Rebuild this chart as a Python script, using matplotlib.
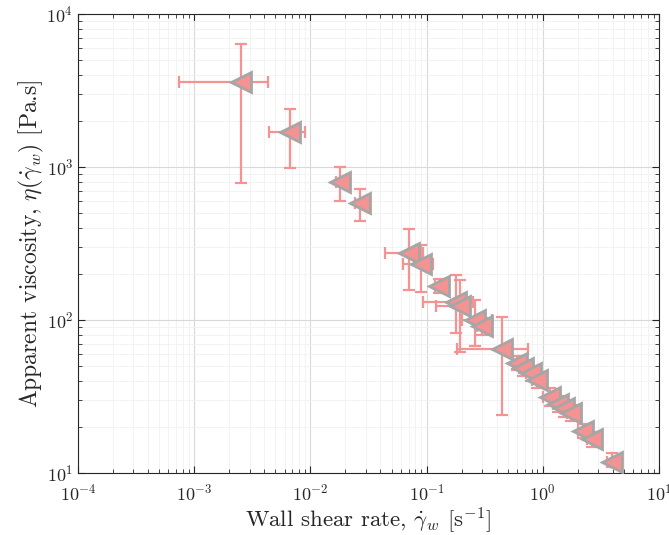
import matplotlib
matplotlib.use("Agg")
import matplotlib.pyplot as plt
import numpy as np

# Data
shear_rate = [2.53e-3, 6.67e-3, 0.0180, 0.0267, 0.0706, 0.0895, 0.128, 0.179, 0.194,
              0.261, 0.300, 0.446, 0.600, 0.676, 0.791, 0.891, 1.153, 1.352, 1.522,
              1.749, 2.218, 2.65, 3.94]
viscosity = [3600, 1700, 800, 580, 274, 232, 167, 131, 124,
             100, 91.4, 64.6, 52.4, 48.5, 45.1, 40.6, 31.4, 28.2, 26.6,
             24.7, 18.8, 16.7, 11.8]
visc_low = [785, 985, 600, 443, 157, 152, 150, 82.3, 61.8,
            67.6, 80, 23.9, 47, 43, 40, 36, 27.5, 25, 23.3,
            21.8, 16.9, 14.8, 10.9]
visc_high = [6368, 2393, 1000, 718, 393, 309, 185, 197, 182,
             135, 103, 105, 58, 54, 50, 45, 36, 32, 30,
             27.8, 21, 18.6, 13.6]
rate_low = [7.4e-4, 4.4e-3, 0.0165, 0.0240, 0.0439, 0.0627, 0.118, 0.0931, 0.12,
            0.202, 0.27, 0.183, 0.55, 0.62, 0.72, 0.80, 1.00, 1.22, 1.40,
            1.60, 2.00, 2.40, 3.60]
rate_high = [4.3e-3, 9.0e-3, 0.0196, 0.0300, 0.0931, 0.1135, 0.140, 0.251, 0.23,
             0.366, 0.34, 0.746, 0.66, 0.74, 0.86, 0.97, 1.30, 1.48, 1.65,
             1.90, 2.45, 2.90, 4.30]

x = np.array(shear_rate)
y = np.array(viscosity)
yerr = np.vstack([y - np.array(visc_low), np.array(visc_high) - y])
xerr = np.vstack([x - np.array(rate_low), np.array(rate_high) - x])

plt.rcParams['font.family'] = 'serif'
plt.rcParams['font.serif'] = ['cmr10', 'DejaVu Serif']
plt.rcParams['mathtext.fontset'] = 'cm'
plt.rcParams['axes.formatter.use_mathtext'] = True

fig = plt.figure(figsize=(6.69, 5.35), dpi=100)
ax = fig.add_axes([78/669, 1-473/535, (659-78)/669, (473-14)/535])

ax.errorbar(x, y, yerr=yerr, xerr=xerr, fmt='none', ecolor='#f59393',
            elinewidth=1.6, capsize=4, capthick=1.6, zorder=2)
ax.plot(x, y, linestyle='none', marker='<', markersize=15,
        markerfacecolor='#f59393', markeredgecolor='#a6a6a6',
        markeredgewidth=2, zorder=3)

ax.set_xscale('log')
ax.set_yscale('log')
ax.set_xlim(1e-4, 1e1)
ax.set_ylim(1e1, 1e4)

ax.grid(True, which='major', color='#d9d9d9', linewidth=0.8)
ax.grid(True, which='minor', color='#f1f1f1', linewidth=0.6)
ax.set_axisbelow(True)

ax.tick_params(which='both', direction='in', top=True, right=True,
               colors='#262626', labelsize=13, labelcolor='#262626')
ax.tick_params(axis='x', which='major', pad=7)
ax.tick_params(which='major', length=5)
ax.tick_params(which='minor', length=3)
for s in ax.spines.values():
    s.set_color('#262626')
    s.set_linewidth(0.8)

ax.set_xlabel(r'Wall shear rate, $\dot{\gamma}_w$ [s$^{-1}$]', fontsize=16.5,
              color='#262626', labelpad=2)
ax.set_ylabel(r'Apparent viscosity, $\eta(\dot{\gamma}_w)$ [Pa.s]', fontsize=17,
              color='#262626', labelpad=0)

fig.savefig('out.png', dpi=100)
